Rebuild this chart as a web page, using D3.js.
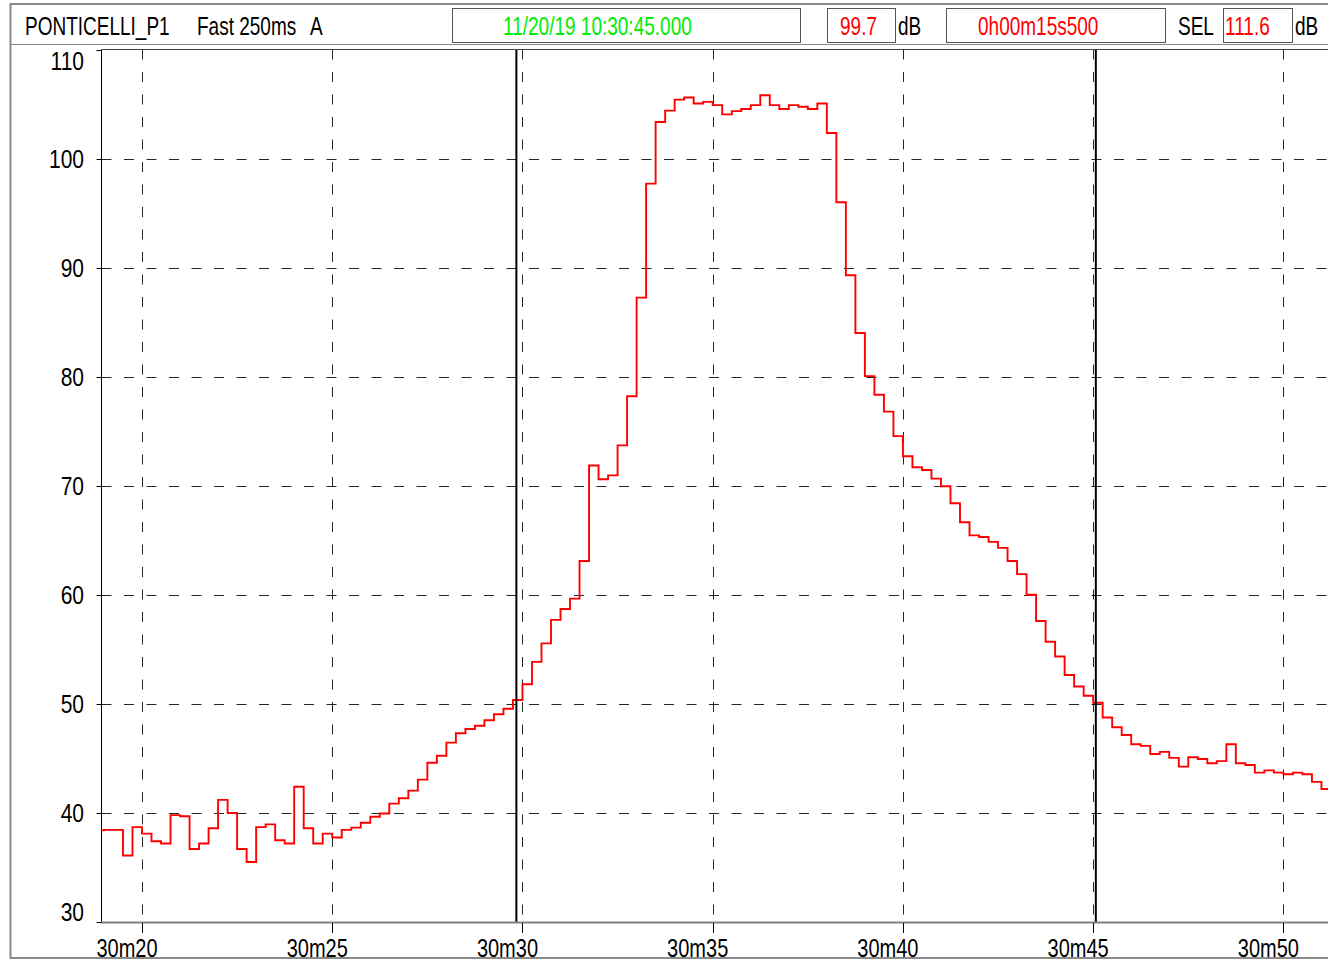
<!DOCTYPE html>
<html>
<head>
<meta charset="utf-8">
<script src="https://cdn.jsdelivr.net/npm/d3@7"></script>
<style>
body{margin:0;background:#fff;}
svg{display:block;font-family:"Liberation Sans",Arial,sans-serif;}
</style>
</head>
<body>
<div id="chart"></div>
<script>
// sound level, Fast 250ms, A weighted. time = seconds after 10:30:00
var stepStart = 18.75;
var stepSize = 0.25;
var levels = [
  38.4, 38.45, 38.45, 36.1, 38.7,
  38.1, 37.4, 37.2, 39.8,
  39.7, 36.7, 37.2, 38.6,
  41.2, 40.0, 36.7, 35.5,
  38.7, 38.95, 37.5, 37.2,
  42.4, 38.6, 37.2, 38.1,
  37.75, 38.45, 38.65, 39.1,
  39.65, 39.95, 40.85, 41.35,
  42.05, 43.05, 44.6, 45.25,
  46.45, 47.3, 47.7, 48.0,
  48.5, 49.05, 49.55, 50.35,
  51.8, 53.85, 55.55, 57.7,
  58.7, 59.65, 63.1, 71.85,
  70.6, 70.95, 73.7, 78.2,
  87.25, 97.7, 103.35, 104.4,
  105.4, 105.6, 105.05, 105.2,
  104.9, 104.05, 104.35, 104.55,
  104.9, 105.8, 104.9, 104.55,
  104.9, 104.75, 104.55, 105.05,
  102.35, 96.0, 89.3, 84.0,
  80.05, 78.35, 76.8, 74.55,
  72.7, 71.7, 71.45, 70.65,
  69.95, 68.4, 66.65, 65.45,
  65.3, 64.85, 64.3, 63.1,
  61.9, 60.0, 57.6, 55.7,
  54.35, 52.65, 51.6, 50.75,
  50.1, 48.75, 47.85, 47.15,
  46.3, 46.15, 45.4, 45.6,
  45.05, 44.25, 45.1, 44.95,
  44.55, 44.75, 46.3, 44.55,
  44.4, 43.7, 43.9, 43.7,
  43.55, 43.7, 43.55, 42.85,
  42.2
];
var timeTicks = [20, 25, 30, 35, 40, 45, 50];
var timeTickLabels = ["30m20", "30m25", "30m30", "30m35", "30m40", "30m45", "30m50"];
var levelTicks = [30, 40, 50, 60, 70, 80, 90, 100, 110];
var levelTickLabels = ["30", "40", "50", "60", "70", "80", "90", "100", "110"];
var cursorTimes = [29.84, 45.07];

var stationName = "PONTICELLI_P1";
var modeName = "Fast 250ms";
var weighting = "A";
var startStamp = "11/20/19 10:30:45.000";
var leqValue = "99.7";
var duration = "0h00m15s500";
var selLabel = "SEL";
var selValue = "111.6";
var unit = "dB";

var W = 1328, H = 961;
var plot = {left: 101.5, top: 49.5, right: 1340, bottom: 922};
var squeeze = 0.78; // the instrument font is very condensed

var svg = d3.select("#chart").append("svg")
  .attr("width", W)
  .attr("height", H);

svg.append("rect").attr("width", W).attr("height", H).attr("fill", "#fff");

var x = d3.scaleLinear().domain([20, 50]).range([142, 1283.4]);
var y = d3.scaleLinear().domain([30, 110]).range([plot.bottom, plot.top]);

function condense(sel, k){
  k = k || squeeze;
  sel.each(function(){
    var len = this.getComputedTextLength();
    d3.select(this).attr("textLength", len * k).attr("lengthAdjust", "spacingAndGlyphs");
  });
}

// outer frame + header
svg.append("rect")
  .attr("x", 10.5).attr("y", 4)
  .attr("width", W + 20).attr("height", 954)
  .attr("fill", "none").attr("stroke", "#8a8a8a").attr("stroke-width", 2);
svg.append("line")
  .attr("x1", 10).attr("x2", W).attr("y1", 44.5).attr("y2", 44.5)
  .attr("stroke", "#8a8a8a");

var boxes = [
  {x: 452.5, w: 348},
  {x: 827.5, w: 68},
  {x: 946.5, w: 219},
  {x: 1223.5, w: 69}
];
svg.selectAll(".hbox").data(boxes).enter().append("rect")
  .attr("class", "hbox")
  .attr("x", function(d){ return d.x; })
  .attr("y", 8.5)
  .attr("width", function(d){ return d.w; })
  .attr("height", 34)
  .attr("fill", "none").attr("stroke", "#555");

var headerTexts = [
  {t: stationName, x: 25, c: "#000"},
  {t: modeName, x: 197, c: "#000"},
  {t: weighting, x: 310, c: "#000"},
  {t: startStamp, x: 503, c: "#00ee00"},
  {t: leqValue, x: 840, c: "#ff0000"},
  {t: unit, x: 898, c: "#000"},
  {t: duration, x: 978, c: "#ff0000"},
  {t: selLabel, x: 1178, c: "#000"},
  {t: selValue, x: 1225, c: "#ff0000"},
  {t: unit, x: 1295, c: "#000"}
];
svg.selectAll(".htext").data(headerTexts).enter().append("text")
  .attr("class", "htext")
  .attr("x", function(d){ return d.x; })
  .attr("y", 34.5)
  .attr("font-size", 25)
  .attr("fill", function(d){ return d.c; })
  .text(function(d){ return d.t; })
  .call(condense, 0.76);

// grid
var grid = svg.append("g").attr("stroke", "#000").attr("stroke-dasharray", "10,12.5").attr("stroke-width", 1);
grid.selectAll(".hg").data(levelTicks.slice(1, -1)).enter().append("line")
  .attr("x1", plot.left).attr("x2", plot.right)
  .attr("y1", function(d){ return Math.round(y(d)) + 0.5; })
  .attr("y2", function(d){ return Math.round(y(d)) + 0.5; })
  .attr("stroke-opacity", 0.85);
grid.selectAll(".vg").data(timeTicks).enter().append("line")
  .attr("x1", function(d){ return Math.round(x(d)) + 0.5; })
  .attr("x2", function(d){ return Math.round(x(d)) + 0.5; })
  .attr("y1", plot.top).attr("y2", plot.bottom)
  .attr("stroke-opacity", 0.85);

// level trace
svg.append("clipPath").attr("id", "plotclip").append("rect")
  .attr("x", plot.left).attr("y", plot.top)
  .attr("width", plot.right - plot.left).attr("height", plot.bottom - plot.top);

var pts = levels.map(function(v, i){ return [stepStart + i * stepSize, v]; });
pts.push([stepStart + levels.length * stepSize, levels[levels.length - 1]]);

var line = d3.line()
  .x(function(d){ return x(d[0]); })
  .y(function(d){ return y(d[1]); })
  .curve(d3.curveStepAfter);

svg.append("path")
  .datum(pts)
  .attr("clip-path", "url(#plotclip)")
  .attr("d", line)
  .attr("fill", "none")
  .attr("stroke", "#ff0000")
  .attr("stroke-width", 1.9);

// cursors
svg.selectAll(".cursor").data(cursorTimes).enter().append("line")
  .attr("x1", function(d){ return x(d); })
  .attr("x2", function(d){ return x(d); })
  .attr("y1", plot.top).attr("y2", plot.bottom)
  .attr("stroke", "#000").attr("stroke-width", 2);

// frame of the plot
svg.append("line").attr("x1", plot.left).attr("x2", plot.right).attr("y1", plot.top).attr("y2", plot.top)
  .attr("stroke", "#444");
svg.append("line").attr("x1", plot.left).attr("x2", plot.left).attr("y1", plot.top).attr("y2", plot.bottom)
  .attr("stroke", "#000");
svg.append("line").attr("x1", plot.left - 1).attr("x2", plot.right).attr("y1", plot.bottom + 0.5).attr("y2", plot.bottom + 0.5)
  .attr("stroke", "#808080").attr("stroke-width", 2);

// y axis ticks and labels
svg.selectAll(".ytick").data(levelTicks).enter().append("line")
  .attr("x1", plot.left - 5).attr("x2", plot.left)
  .attr("y1", function(d){ return Math.round(y(d)) + 0.5; })
  .attr("y2", function(d){ return Math.round(y(d)) + 0.5; })
  .attr("stroke", "#000");
svg.selectAll(".ylab").data(levelTicks).enter().append("text")
  .attr("x", 84)
  .attr("y", function(d){ return Math.min(Math.max(y(d), plot.top + 11), plot.bottom - 10) + 9; })
  .attr("text-anchor", "end")
  .attr("font-size", 25)
  .text(function(d, i){ return levelTickLabels[i]; })
  .call(condense, 0.84);

// x axis ticks and labels (labels sit a bit left of their tick, like the instrument software)
svg.selectAll(".xtick").data(timeTicks).enter().append("line")
  .attr("x1", function(d){ return Math.round(x(d)) + 0.5; })
  .attr("x2", function(d){ return Math.round(x(d)) + 0.5; })
  .attr("y1", plot.bottom + 1).attr("y2", plot.bottom + 11)
  .attr("stroke", "#000");
svg.selectAll(".xlab").data(timeTicks).enter().append("text")
  .attr("x", function(d){ return x(d) - 15; })
  .attr("y", 957)
  .attr("text-anchor", "middle")
  .attr("font-size", 25)
  .text(function(d, i){ return timeTickLabels[i]; })
  .call(condense, 0.8);
</script>
</body>
</html>
